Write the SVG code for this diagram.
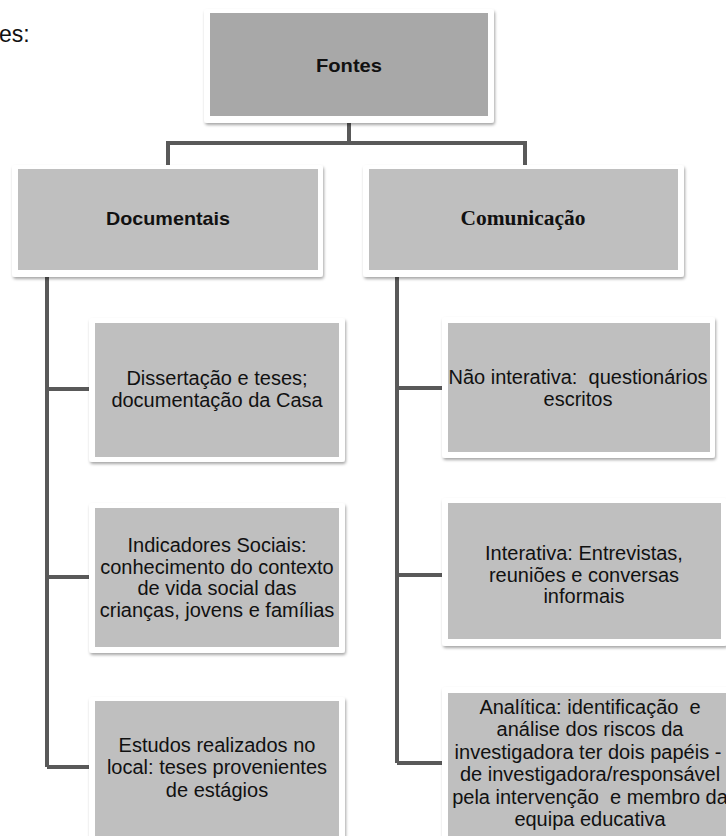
<svg xmlns="http://www.w3.org/2000/svg" width="726" height="836" viewBox="0 0 726 836">
<defs>
<filter id="sh" x="-10%" y="-10%" width="120%" height="130%">
<feDropShadow dx="1" dy="2" stdDeviation="1.6" flood-color="#000" flood-opacity="0.35"/>
</filter>
<style>
.frame{fill:#fff;filter:url(#sh)}
.dark{fill:#a8a8a8}
.light{fill:#bfbfbf}
.conn{fill:none;stroke:#595959;stroke-width:4}
.t{font-family:"Liberation Sans",Arial,sans-serif;font-size:20px;fill:#111;text-anchor:middle}
.h{font-family:"Liberation Sans",Arial,sans-serif;font-weight:bold;font-size:19px;fill:#111;text-anchor:middle}
.hs{font-family:"Liberation Serif","Times New Roman",serif;font-weight:bold;font-size:20px;fill:#111;text-anchor:middle}
</style>
</defs>
<rect width="726" height="836" fill="#fff"/>
<text x="-1" y="42" font-family="Liberation Sans, Arial, sans-serif" font-size="23" fill="#111">es:</text>

<g id="connectors">
<path class="conn" d="M349 123V143M168 165V143H525V165"/>
<path class="conn" d="M47 277V767M47 389H89M47 577H89M47 767H89"/>
<path class="conn" d="M397 277V763M397 388H442M397 575H442M397 763H442"/>
</g>

<g id="fontes">
<rect class="frame" x="204" y="9" width="290" height="114" rx="3"/>
<rect class="dark" x="210" y="13" width="278" height="103"/>
<text class="h" x="349" y="72" textLength="66" lengthAdjust="spacingAndGlyphs">Fontes</text>
</g>

<g id="documentais">
<rect class="frame" x="12" y="165" width="311" height="112" rx="3"/>
<rect class="light" x="18" y="169" width="300" height="101"/>
<text class="h" x="168" y="225" textLength="124" lengthAdjust="spacingAndGlyphs">Documentais</text>
</g>

<g id="comunicacao">
<rect class="frame" x="363" y="165" width="321" height="112" rx="3"/>
<rect class="light" x="369" y="169" width="309" height="101"/>
<text class="hs" x="523" y="225" textLength="125" lengthAdjust="spacingAndGlyphs">Comunicação</text>
</g>

<g id="doc1">
<rect class="frame" x="89" y="318" width="256" height="144" rx="3"/>
<rect class="light" x="95" y="323" width="244" height="134"/>
<text class="t" x="217" y="385">Dissertação e teses;</text>
<text class="t" x="217" y="407">documentação da Casa</text>
</g>

<g id="doc2">
<rect class="frame" x="89" y="503" width="256" height="150" rx="3"/>
<rect class="light" x="95" y="508" width="244" height="139"/>
<text class="t" x="217" y="552">Indicadores Sociais:</text>
<text class="t" x="217" y="574">conhecimento do contexto</text>
<text class="t" x="217" y="595">de vida social das</text>
<text class="t" x="217" y="617">crianças, jovens e famílias</text>
</g>

<g id="doc3">
<rect class="frame" x="89" y="697" width="256" height="150" rx="3"/>
<rect class="light" x="95" y="701" width="244" height="140"/>
<text class="t" x="217" y="752">Estudos realizados no</text>
<text class="t" x="217" y="774">local: teses provenientes</text>
<text class="t" x="217" y="797">de estágios</text>
</g>

<g id="com1">
<rect class="frame" x="442" y="317" width="273" height="141" rx="3"/>
<rect class="light" x="448" y="323" width="262" height="129"/>
<text class="t" x="578" y="384" xml:space="preserve">Não interativa:  questionários</text>
<text class="t" x="578" y="406">escritos</text>
</g>

<g id="com2">
<rect class="frame" x="442" y="498" width="285" height="148" rx="3"/>
<rect class="light" x="448" y="503" width="273" height="136"/>
<text class="t" x="584" y="560">Interativa: Entrevistas,</text>
<text class="t" x="584" y="582">reuniões e conversas</text>
<text class="t" x="584" y="603">informais</text>
</g>

<g id="com3">
<rect class="frame" x="442" y="687" width="296" height="160" rx="3"/>
<rect class="light" x="448" y="693" width="284" height="150"/>
<text class="t" x="590" y="714" xml:space="preserve">Analítica: identificação  e</text>
<text class="t" x="590" y="736">análise dos riscos da</text>
<text class="t" x="588" y="759">investigadora ter dois papéis -</text>
<text class="t" x="590" y="781">de investigadora/responsável</text>
<text class="t" x="590" y="804" xml:space="preserve">pela intervenção  e membro da</text>
<text class="t" x="590" y="826">equipa educativa</text>
</g>
</svg>
